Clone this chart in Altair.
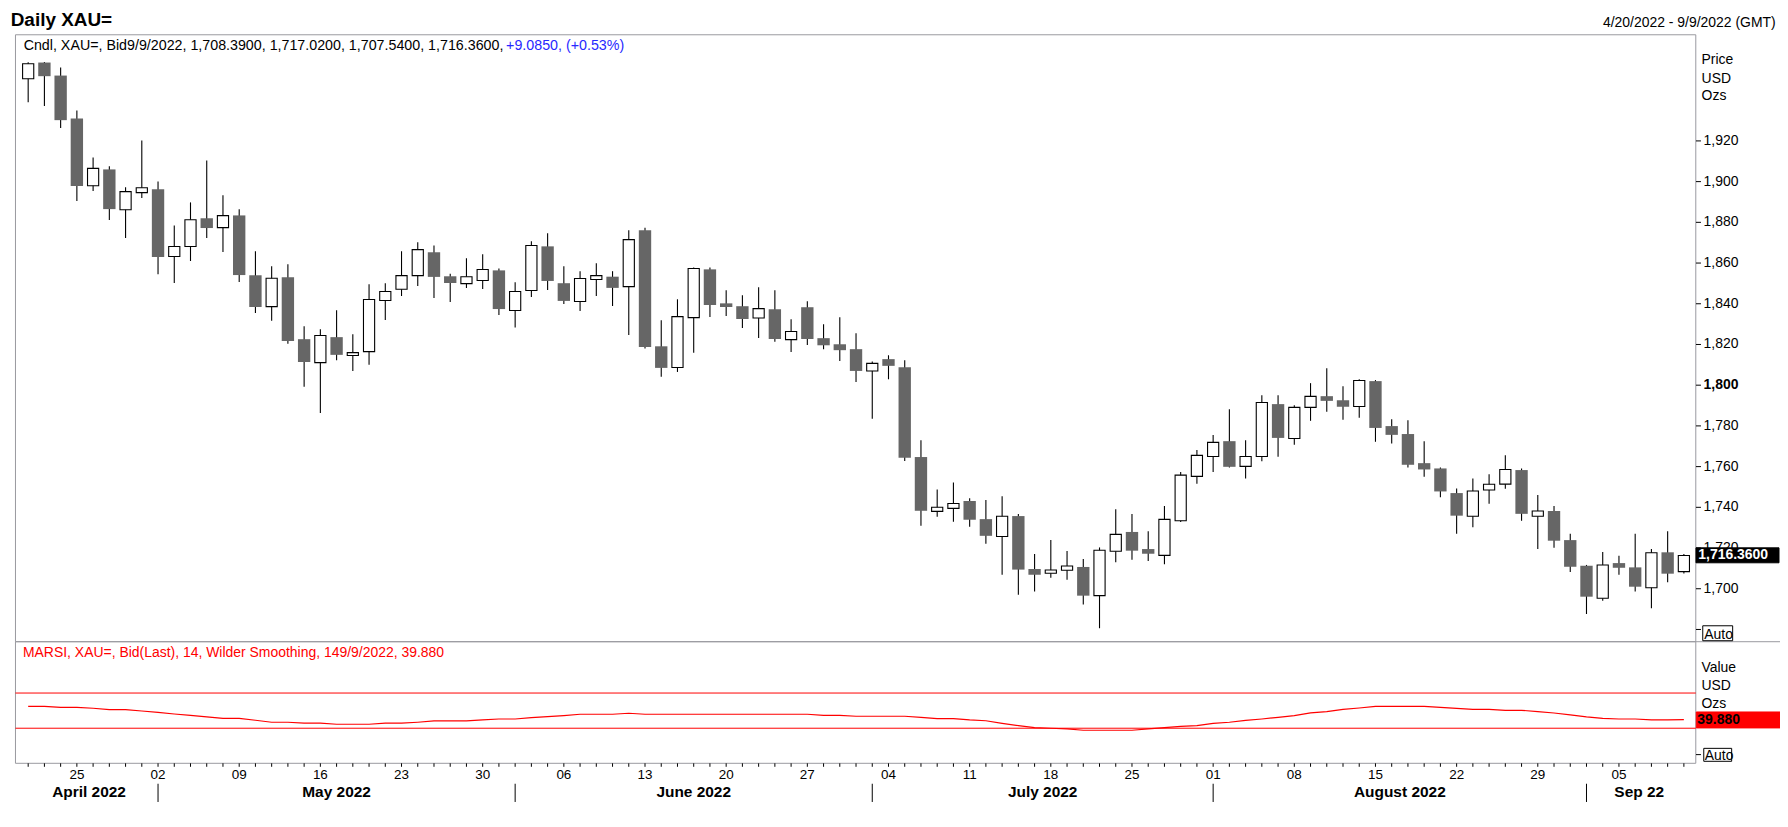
import altair as alt
import pandas as pd

FONT = "Liberation Sans"
GRAY = "#9a9aa0"

# trading days shown (Apr 20 2022 .. Sep 9 2022)
dates = pd.bdate_range("2022-04-20", "2022-09-09")

open_px = [1950.5, 1958.5, 1952.1, 1931.0, 1898.0, 1906.0, 1886.2, 1894.6, 1896.2, 1863.2,
           1868.1, 1882.0, 1877.4, 1883.4, 1854.0, 1838.6, 1853.0, 1822.6, 1811.1, 1823.6,
           1814.6, 1816.5, 1841.6, 1847.1, 1853.8, 1865.3, 1853.5, 1849.9, 1851.4, 1856.4,
           1836.7, 1846.5, 1868.2, 1850.1, 1841.1, 1851.9, 1853.3, 1848.4, 1876.1, 1819.1,
           1808.7, 1833.2, 1856.9, 1840.2, 1838.8, 1833.0, 1837.3, 1822.4, 1838.3, 1823.1,
           1820.1, 1817.7, 1807.0, 1812.8, 1808.8, 1764.7, 1738.0, 1739.5, 1743.1, 1734.2,
           1725.7, 1735.7, 1709.7, 1707.6, 1709.1, 1710.7, 1696.6, 1718.4, 1727.9, 1719.5,
           1716.4, 1733.4, 1755.2, 1765.0, 1772.5, 1760.1, 1765.0, 1790.7, 1773.8, 1789.1,
           1794.6, 1792.6, 1789.5, 1802.0, 1779.9, 1776.0, 1761.7, 1759.1, 1747.0, 1735.6,
           1748.5, 1751.4, 1758.3, 1735.6, 1738.2, 1723.9, 1711.3, 1695.3, 1712.6, 1710.5,
           1700.5, 1717.9, 1708.39]
high_px = [1958.7, 1958.8, 1956.1, 1935.0, 1911.9, 1907.5, 1897.2, 1920.2, 1900.1, 1878.5,
           1889.8, 1910.4, 1893.3, 1886.4, 1865.8, 1858.4, 1859.4, 1829.0, 1827.5, 1836.8,
           1825.0, 1849.6, 1850.1, 1865.8, 1870.2, 1868.6, 1854.8, 1862.3, 1864.3, 1857.3,
           1850.6, 1870.7, 1874.6, 1858.4, 1856.0, 1859.9, 1856.0, 1876.1, 1877.4, 1831.9,
           1842.2, 1857.8, 1857.8, 1846.6, 1844.2, 1848.1, 1846.6, 1832.4, 1841.2, 1829.9,
           1833.4, 1825.5, 1811.6, 1814.7, 1812.3, 1773.0, 1748.8, 1752.2, 1744.5, 1743.6,
           1745.5, 1736.7, 1717.1, 1723.9, 1718.5, 1714.6, 1720.3, 1739.1, 1736.7, 1728.2,
           1740.6, 1757.3, 1768.1, 1775.5, 1788.2, 1773.0, 1795.1, 1795.1, 1790.2, 1801.0,
           1808.3, 1799.5, 1802.9, 1802.5, 1783.3, 1782.8, 1772.5, 1759.6, 1749.3, 1754.2,
           1756.3, 1765.6, 1759.1, 1746.0, 1740.6, 1727.0, 1711.7, 1718.0, 1716.2, 1727.0,
           1719.5, 1728.2, 1717.02]
low_px = [1939.0, 1937.1, 1926.3, 1890.5, 1895.4, 1881.1, 1872.3, 1891.9, 1854.5, 1850.2,
          1861.0, 1872.3, 1865.4, 1850.7, 1835.5, 1831.6, 1820.3, 1799.2, 1786.3, 1812.3,
          1807.0, 1810.0, 1832.0, 1843.8, 1848.7, 1842.8, 1840.9, 1847.8, 1847.3, 1834.5,
          1828.3, 1843.3, 1846.8, 1839.9, 1836.5, 1843.8, 1838.9, 1824.7, 1818.0, 1804.1,
          1806.5, 1815.9, 1833.5, 1834.0, 1828.1, 1823.2, 1821.3, 1816.3, 1819.8, 1817.7,
          1811.9, 1801.6, 1783.5, 1802.9, 1762.7, 1730.9, 1735.4, 1732.9, 1730.5, 1722.1,
          1706.9, 1697.1, 1698.6, 1705.4, 1704.4, 1692.2, 1680.6, 1713.0, 1714.3, 1713.6,
          1712.0, 1732.8, 1751.6, 1757.4, 1759.6, 1754.2, 1762.6, 1764.8, 1770.7, 1782.5,
          1786.9, 1783.0, 1784.0, 1772.2, 1771.4, 1759.6, 1755.0, 1744.9, 1727.0, 1730.2,
          1741.7, 1749.1, 1733.4, 1719.5, 1720.1, 1708.2, 1687.6, 1694.1, 1706.9, 1698.6,
          1690.4, 1703.2, 1707.54]
close_px = [1957.9, 1951.8, 1930.2, 1897.8, 1906.5, 1886.5, 1895.1, 1897.0, 1863.0, 1868.1,
            1881.3, 1877.2, 1883.3, 1854.1, 1838.4, 1852.5, 1821.7, 1811.4, 1824.4, 1814.9,
            1816.0, 1842.1, 1846.0, 1853.8, 1866.6, 1853.2, 1850.2, 1853.3, 1856.8, 1837.4,
            1846.0, 1868.6, 1851.2, 1841.4, 1852.4, 1853.8, 1847.8, 1871.5, 1818.8, 1808.5,
            1833.7, 1857.3, 1839.4, 1838.4, 1832.5, 1837.6, 1822.7, 1826.4, 1822.7, 1819.6,
            1817.2, 1807.0, 1810.7, 1809.5, 1764.3, 1738.3, 1740.0, 1741.9, 1733.9, 1726.0,
            1735.6, 1709.4, 1706.9, 1709.2, 1711.2, 1696.6, 1718.9, 1726.7, 1718.7, 1717.2,
            1734.1, 1755.8, 1765.5, 1771.9, 1759.9, 1765.0, 1791.5, 1774.1, 1789.1, 1794.5,
            1792.3, 1789.4, 1802.3, 1779.0, 1775.6, 1760.9, 1758.6, 1747.8, 1735.9, 1748.0,
            1751.3, 1758.6, 1736.8, 1738.2, 1723.6, 1710.8, 1696.1, 1711.7, 1710.3, 1701.0,
            1717.7, 1707.4, 1716.36]
rsi_val = [54.9, 54.9, 53.8, 53.8, 52.7, 51.1, 51.1, 49.6, 48.1, 46.2,
           44.7, 42.8, 41.3, 41.3, 39.1, 36.8, 36.8, 35.7, 35.7, 34.5,
           34.5, 34.5, 35.7, 35.7, 36.8, 38.3, 38.3, 38.3, 39.4, 40.5,
           40.5, 42.0, 43.1, 44.3, 45.9, 45.9, 45.9, 47.0, 45.9, 45.9,
           45.9, 45.9, 45.9, 45.9, 45.9, 45.9, 45.9, 45.9, 45.9, 44.7,
           44.7, 43.6, 43.6, 43.6, 43.6, 42.4, 40.9, 40.9, 39.4, 38.5,
           35.6, 33.0, 30.7, 30.0, 29.2, 27.7, 27.7, 27.7, 27.7, 29.2,
           30.7, 32.0, 33.0, 35.6, 36.8, 39.0, 40.5, 42.4, 44.3, 47.5,
           48.8, 51.5, 53.0, 54.9, 54.9, 54.9, 54.9, 53.7, 52.6, 51.5,
           51.5, 50.4, 50.4, 48.8, 47.3, 45.1, 42.8, 41.3, 40.5, 40.5,
           39.4, 39.4, 39.88]

price_ticks = [1700, 1720, 1740, 1760, 1780, 1800, 1820, 1840, 1860, 1880, 1900, 1920]
major_tick = 1800
auto_price_tick = [1680]
rsi_levels = [30, 70]
rsi_auto_tick = [0]
month_names = ["April 2022", "May 2022", "June 2022", "July 2022", "August 2022", "Sep 22"]
last_price = [1716.36]
last_rsi = [39.88]

n = len(dates)
df = pd.DataFrame({"i": list(range(n)), "o": open_px, "h": high_px, "l": low_px,
                   "c": close_px, "rsi": rsi_val})

mondays = pd.DataFrame({"i": [k for k in range(n) if dates[k].weekday() == 0],
                        "t": [dates[k].strftime("%d") for k in range(n) if dates[k].weekday() == 0]})
starts = [k for k in range(1, n) if dates[k].month != dates[k - 1].month]
bounds = [-0.5] + starts + [n - 0.5]
months = pd.DataFrame({"i": [(bounds[k] + bounds[k + 1]) / 2 for k in range(len(bounds) - 1)],
                       "t": month_names})
seps = pd.DataFrame({"i": starts})

XS = alt.Scale(domain=[-0.5, n - 0.5], range=[7.1, 1694.7], nice=False, zero=False)
PY = alt.Scale(domain=[1680, 1960], range=[622.2, 50.3], nice=False, zero=False)
RY = alt.Scale(domain=[30, 70], range=[721.3, 686.0], nice=False, zero=False)

ONE = pd.DataFrame({"k": [0]})


def X(field="i"):
    return alt.X(f"{field}:Q", scale=XS, axis=None)


def txt(s, x, y, size=14, color="black", weight="normal", align="left"):
    return alt.Chart(ONE).mark_text(text=s, font=FONT, fontSize=size, color=color,
                                    fontWeight=weight, align=align, baseline="alphabetic").encode(
        x=alt.value(x), y=alt.value(y))


def box(x1, x2, y1, y2, fill="white", stroke=GRAY, fop=0.0, sw=1.0):
    return alt.Chart(ONE).mark_rect(fill=fill, fillOpacity=fop, stroke=stroke, strokeWidth=sw).encode(
        x=alt.value(x1), x2=alt.value(x2), y=alt.value(y1), y2=alt.value(y2))


layers = []

# panel frames
layers.append(box(7.5, 1693.5, 25.5, 634.5))
layers.append(box(7.5, 1693.5, 634.5, 756.5))
layers.append(alt.Chart(ONE).mark_rule(color=GRAY, strokeWidth=1).encode(
    x=alt.value(1693.5), x2=alt.value(1782), y=alt.value(634.5)))

# RSI reference levels and line
layers.append(alt.Chart(pd.DataFrame({"v": rsi_levels})).mark_rule(color="#ff0000", strokeWidth=1).encode(
    x=alt.value(7.5), x2=alt.value(1693.5), y=alt.Y("v:Q", scale=RY, axis=None)))
layers.append(alt.Chart(df).mark_line(color="#ff0000", strokeWidth=1.2).encode(
    x=X(), y=alt.Y("rsi:Q", scale=RY, axis=None)))

# candles
layers.append(alt.Chart(df).mark_rule(color="black", strokeWidth=1.1).encode(
    x=X(), y=alt.Y("l:Q", scale=PY, axis=None), y2="h:Q"))
layers.append(alt.Chart(df).transform_filter("datum.c < datum.o").mark_bar(
    size=12.4, color="#666666", orient="vertical").encode(
    x=X(), y=alt.Y("o:Q", scale=PY, axis=None), y2="c:Q"))
layers.append(alt.Chart(df).transform_filter("datum.c >= datum.o").mark_bar(
    size=11.2, fill="white", stroke="black", strokeWidth=1.1, orient="vertical").encode(
    x=X(), y=alt.Y("o:Q", scale=PY, axis=None), y2="c:Q"))

# price axis (right)
pt = pd.DataFrame({"v": price_ticks})
layers.append(alt.Chart(pt).mark_rule(color="black", strokeWidth=1).encode(
    x=alt.value(1693.7), x2=alt.value(1698.7), y=alt.Y("v:Q", scale=PY, axis=None)))
layers.append(alt.Chart(pt).transform_filter(f"datum.v != {major_tick}").mark_text(
    font=FONT, fontSize=14, align="left", baseline="middle", color="black").encode(
    x=alt.value(1701.3), y=alt.Y("v:Q", scale=PY, axis=None), text=alt.Text("v:Q", format=",")))
layers.append(alt.Chart(pt).transform_filter(f"datum.v == {major_tick}").mark_text(
    font=FONT, fontSize=14, fontWeight="bold", align="left", baseline="middle", color="black").encode(
    x=alt.value(1701.3), y=alt.Y("v:Q", scale=PY, axis=None), text=alt.Text("v:Q", format=",")))
layers.append(alt.Chart(pd.DataFrame({"v": auto_price_tick})).mark_rule(color="black").encode(
    x=alt.value(1693.7), x2=alt.value(1698.7), y=alt.Y("v:Q", scale=PY, axis=None)))
layers.append(box(1700.5, 1730.5, 618.5, 633.5, stroke="black", fop=1.0))
layers.append(txt("Auto", 1702, 631.3))
layers.append(txt("Price", 1699.3, 55.3))
layers.append(txt("USD", 1699.3, 73.7))
layers.append(txt("Ozs", 1699.3, 91))

# last price box
layers.append(box(1693.7, 1777, 540.3, 555.3, fill="black", stroke="black", fop=1.0))
layers.append(alt.Chart(pd.DataFrame({"v": last_price})).mark_text(
    font=FONT, fontSize=14, fontWeight="bold", color="white", align="left", baseline="middle").encode(
    x=alt.value(1696), y=alt.Y("v:Q", scale=PY, axis=None), text=alt.Text("v:Q", format=",.4f")))

# RSI axis (right)
layers.append(txt("Value", 1699.2, 665.3))
layers.append(txt("USD", 1699.2, 682.7))
layers.append(txt("Ozs", 1699.2, 700.7))
layers.append(box(1694, 1780, 705, 721, fill="#ff0000", stroke="#ff0000", fop=1.0))
layers.append(alt.Chart(pd.DataFrame({"v": last_rsi})).mark_text(
    font=FONT, fontSize=14, fontWeight="bold", color="black", align="left", baseline="middle").encode(
    x=alt.value(1695), y=alt.Y("v:Q", scale=RY, axis=None), text=alt.Text("v:Q", format=".3f")))
layers.append(alt.Chart(pd.DataFrame({"v": rsi_auto_tick})).mark_rule(color="black").encode(
    x=alt.value(1693.7), x2=alt.value(1698.7), y=alt.Y("v:Q", scale=RY, axis=None)))
layers.append(box(1701.5, 1729.5, 741.5, 754.5, stroke="black", fop=1.0))
layers.append(txt("Auto", 1702.5, 753))

# bottom time axis
layers.append(alt.Chart(df).mark_rule(color="black", strokeWidth=1).encode(
    x=X(), y=alt.value(756.5), y2=alt.value(760)))
layers.append(alt.Chart(mondays).mark_text(font=FONT, fontSize=13.5, color="black",
                                           baseline="alphabetic").encode(
    x=X(), y=alt.value(772.7), text="t:N"))
layers.append(alt.Chart(months).mark_text(font=FONT, fontSize=15.5, fontWeight="bold", color="black",
                                          baseline="alphabetic").encode(
    x=X(), y=alt.value(790.3), text="t:N"))
layers.append(alt.Chart(seps).mark_rule(color="black", strokeWidth=1).encode(
    x=X(), y=alt.value(777), y2=alt.value(795.3)))

# titles and legends
layers.append(txt("Daily XAU=", 2.7, 17, size=19, weight="bold"))
layers.append(txt("4/20/2022 - 9/9/2022 (GMT)", 1773.7, 18, align="right"))
layers.append(txt("Cndl, XAU=, Bid9/9/2022, 1,708.3900, 1,717.0200, 1,707.5400, 1,716.3600,", 15.7, 40.3,
                  size=14.3))
layers.append(txt("+9.0850, (+0.53%)", 499.8, 40.3, size=14.3, color="#2828ff"))
layers.append(txt("MARSI, XAU=, Bid(Last),  14, Wilder Smoothing, 149/9/2022, 39.880", 15, 650.3,
                  color="#ff0000"))

chart = alt.layer(*layers).resolve_scale(y="independent").properties(
    width=1778, height=805, autosize=alt.AutoSizeParams(type="none"), padding=0,
    background="white").configure_view(stroke=None)

chart.save("out.html", embed_options={"renderer": "svg", "actions": False})
